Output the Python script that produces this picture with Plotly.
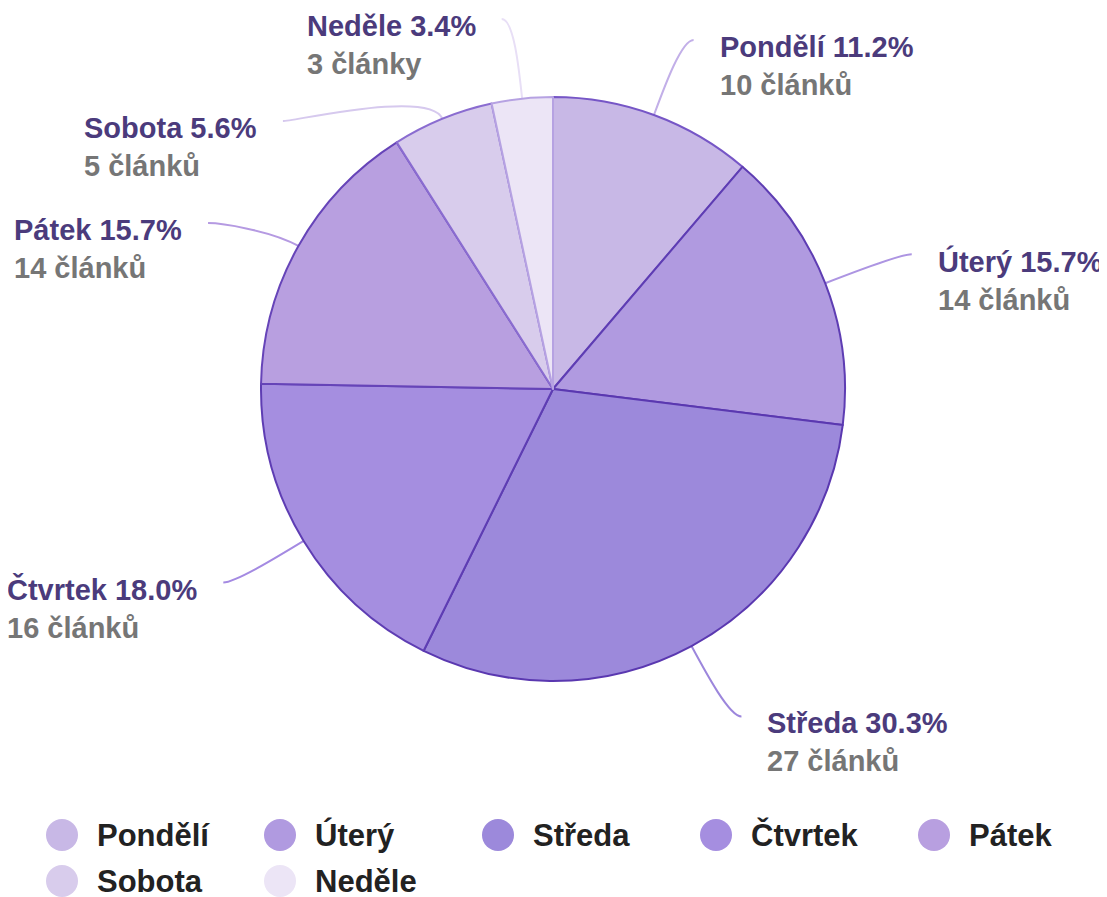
import math
import plotly.graph_objects as go

# ---- data ----
days = ["Pondělí", "Úterý", "Středa", "Čtvrtek", "Pátek", "Sobota", "Neděle"]
counts = [10, 14, 27, 16, 14, 5, 3]
fill_colors = ["#c8b8e6", "#b09ae0", "#9c89db", "#a58ee0", "#b89fe0", "#d8ccec", "#ece5f6"]
border_colors = ["#7656c6", "#5e3db3", "#5a38b0", "#5e3db3", "#6644b8", "#8a6cd0", "#b6a2e2"]
line_colors = ["#c2afe8", "#ad95e2", "#9c86dc", "#a48ae2", "#b59ae2", "#d6c9ee", "#e8dff6"]

# ---- layout constants (page pixels) ----
PAGE_OFF = 8            # default body margin of the html page
W, H = 1107 - PAGE_OFF, 897 - PAGE_OFF
CX, CY, R = 553, 389, 292
R_ELBOW = 372
LEN2 = 12
GAP_TEXT = 24
MIN_LABEL_GAP = 102
FONT = "Liberation Sans, Arial, sans-serif"
LABEL_COLOR = "#4b3b7c"
VALUE_COLOR = "#767676"


def px(x):
    return (x - PAGE_OFF) / W


def py(y):
    return 1 - (y - PAGE_OFF) / H


def unit(n):
    return "články" if 2 <= n <= 4 else "článků"


total = sum(counts)

fig = go.Figure()
fig.add_trace(go.Pie(
    labels=days, values=counts, sort=False, direction="clockwise", rotation=0,
    marker=dict(colors=fill_colors, line=dict(color=border_colors, width=2)),
    textinfo="none", hoverinfo="skip", showlegend=False,
    domain=dict(x=[px(CX - R), px(CX + R)], y=[py(CY + R), py(CY - R)]),
))

# ---- label geometry (computed from data) ----
items = []
cum = 0
for i, n in enumerate(counts):
    mid = (cum + n / 2) / total * 2 * math.pi
    cum += n
    s, c = math.sin(mid), math.cos(mid)
    items.append(dict(i=i, s=s, c=c, side=1 if s >= 0 else -1,
                      ey=CY - R_ELBOW * c))

for side in (1, -1):
    grp = sorted([it for it in items if it["side"] == side], key=lambda t: t["ey"])
    prev = None
    for it in grp:
        if prev is not None:
            it["ey"] = max(it["ey"], prev + MIN_LABEL_GAP)
        prev = it["ey"]

shapes = []
annotations = []
for it in items:
    i = it["i"]
    s, c, side = it["s"], it["c"], it["side"]
    sx, sy = CX + R * s, CY - R * c
    dy = CY - it["ey"]
    ex = CX + side * math.sqrt(max(R_ELBOW ** 2 - dy ** 2, 0))
    ey = it["ey"]
    endx = ex + side * LEN2
    c1x, c1y = sx + 32 * s, sy - 32 * c
    path = (f"M {px(sx)},{py(sy)} C {px(c1x)},{py(c1y)} "
            f"{px(ex)},{py(ey)} {px(endx)},{py(ey)}")
    shapes.append(dict(type="path", path=path, xref="paper", yref="paper",
                       line=dict(color=line_colors[i], width=2), layer="below"))
    pct = counts[i] / total * 100
    txt = (f"<b>{days[i]} {pct:.1f}%</b><br>"
           f"<b><span style='color:{VALUE_COLOR}'>{counts[i]} {unit(counts[i])}</span></b>")
    annotations.append(dict(
        x=px(endx + side * GAP_TEXT), y=py(ey + 26), xref="paper", yref="paper",
        text=txt, showarrow=False, xanchor="left" if side > 0 else "right",
        yanchor="middle", align="left",
        font=dict(family=FONT, size=29, color=LABEL_COLOR),
    ))

# ---- manual legend with circular symbols ----
LEG_X0, LEG_DX, LEG_Y0, LEG_DY, PER_ROW, RAD = 62, 218, 835, 46, 5, 16
for i, d in enumerate(days):
    col, row = i % PER_ROW, i // PER_ROW
    lx, ly = LEG_X0 + col * LEG_DX, LEG_Y0 + row * LEG_DY
    shapes.append(dict(type="circle", xref="paper", yref="paper",
                       x0=px(lx - RAD), x1=px(lx + RAD), y0=py(ly + RAD), y1=py(ly - RAD),
                       fillcolor=fill_colors[i], line=dict(width=0)))
    annotations.append(dict(x=px(lx + 33), y=py(ly), xref="paper", yref="paper",
                            text=f"<b>{d}</b>", showarrow=False, xanchor="left",
                            yanchor="middle",
                            font=dict(family=FONT, size=31, color="#222222")))

fig.update_layout(
    width=W, height=H, margin=dict(l=0, r=0, t=0, b=0),
    paper_bgcolor="white", plot_bgcolor="white",
    shapes=shapes, annotations=annotations, showlegend=False,
)

fig.write_html("out.html")
